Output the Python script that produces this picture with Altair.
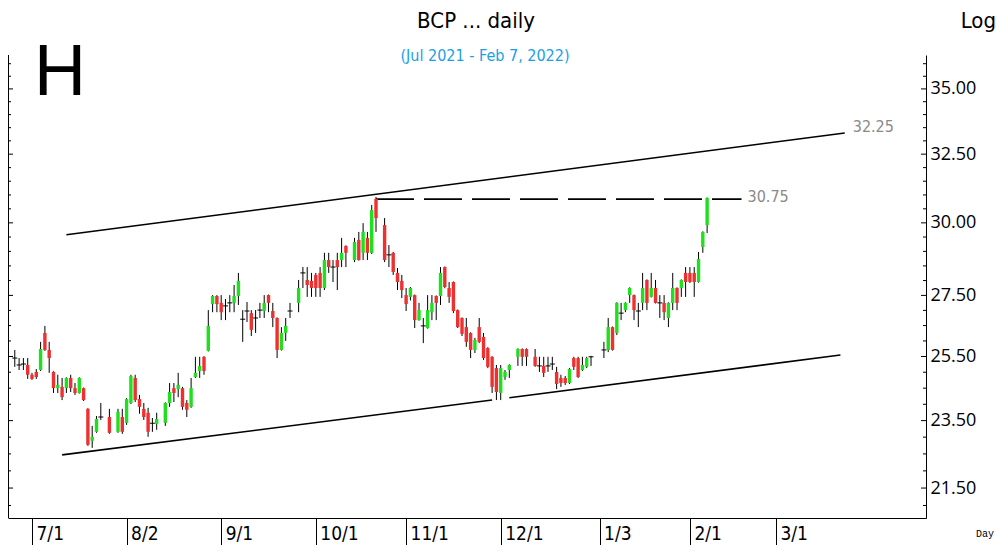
import altair as alt
import numpy as np
import pandas as pd

# ---------------- text ----------------
TITLE = "BCP ... daily"
SUBTITLE = "(Jul 2021 - Feb 7, 2022)"
CORNER = "H"
SCALE_NOTE = "Log"
PERIOD_NOTE = "Day"

# ---------------- data ----------------
first_day, last_day = "2021-06-25", "2022-02-07"
no_bar_days = ["2021-07-26", "2021-07-28", "2021-08-12", "2021-09-24", "2021-10-13",
               "2021-10-22", "2021-12-06", "2021-12-10", "2021-12-31", "2022-01-03"]

open_ = [25.45, 25.23, 25.26, 25.23, 24.92, 25.01, 25.07, 26.26, 25.71, 25.01,
         24.50, 24.54, 24.50, 24.82, 24.50, 24.35, 24.50, 23.86, 22.89, 23.16,
         23.61, 23.61, 23.16, 23.61, 23.43, 24.04, 24.82, 24.16, 23.86, 23.74,
         23.42, 23.40, 23.43, 24.04, 24.50, 24.47, 24.50, 24.04, 23.92, 24.85,
         25.04, 25.49, 25.68, 27.21, 27.48, 27.25, 27.15, 27.25, 27.25, 27.48,
         26.71, 26.98, 26.91, 26.75, 27.01, 26.98, 27.51, 26.98, 26.75, 25.71,
         26.26, 26.98, 27.25, 28.26, 28.02, 27.99, 28.19, 28.26, 27.75, 28.70,
         28.46, 28.70, 28.70, 29.19, 28.70, 29.40, 28.95, 29.47, 28.95, 30.86,
         29.92, 28.88, 28.95, 28.26, 27.99, 27.51, 27.45, 27.51, 26.68, 26.49,
         26.42, 26.94, 27.48, 27.48, 28.46, 27.75, 27.95, 27.01, 26.75, 26.45,
         26.26, 25.71, 26.45, 26.13, 25.77, 25.49, 25.13, 24.35, 24.85, 25.07,
         25.49, 25.74, 25.74, 25.49, 25.20, 25.20, 25.20, 25.26, 25.01, 24.82,
         24.82, 24.66, 25.45, 25.45, 25.07, 25.17, 25.49, 25.71, 25.71, 26.45,
         26.26, 26.91, 27.01, 27.51, 27.51, 26.98, 27.25, 28.02, 27.45, 27.75,
         27.25, 27.25, 26.75, 27.25, 27.75, 27.75, 28.26, 28.26, 28.26, 27.95,
         29.15, 29.92]
high_ = [25.71, 25.45, 25.45, 25.45, 24.98, 25.10, 25.97, 26.49, 25.97, 25.03,
         24.92, 24.82, 24.84, 24.92, 24.66, 24.84, 24.52, 23.88, 23.34, 23.64,
         24.04, 23.86, 23.86, 23.86, 24.19, 24.92, 24.92, 24.29, 24.04, 23.89,
         23.58, 23.74, 24.06, 24.66, 24.66, 24.98, 24.54, 24.13, 24.82, 25.49,
         25.49, 25.51, 27.01, 27.51, 27.51, 27.51, 27.38, 27.51, 27.85, 28.26,
         27.01, 27.28, 27.01, 27.01, 27.25, 27.51, 27.53, 27.25, 26.77, 26.45,
         26.75, 27.25, 28.02, 28.46, 28.46, 28.26, 28.26, 28.46, 28.95, 28.95,
         28.70, 28.95, 29.47, 29.21, 29.47, 29.68, 29.99, 29.68, 30.64, 30.93,
         30.17, 29.22, 28.98, 28.43, 28.19, 27.75, 27.78, 27.53, 27.25, 26.75,
         27.51, 27.51, 27.50, 28.46, 28.48, 27.95, 27.97, 27.03, 26.77, 26.75,
         26.28, 26.10, 26.75, 26.26, 25.80, 25.51, 25.23, 25.23, 25.07, 25.25,
         25.76, 25.76, 25.76, 25.74, 25.49, 25.49, 25.49, 25.49, 25.17, 24.92,
         24.88, 25.13, 25.49, 25.49, 25.49, 25.49, 25.52, 25.97, 26.75, 26.47,
         27.27, 27.25, 27.27, 27.77, 27.53, 27.25, 28.26, 28.04, 28.26, 28.02,
         27.51, 27.51, 27.27, 28.26, 27.77, 28.04, 28.46, 28.46, 28.46, 28.98,
         29.70, 30.91]
low_ = [25.17, 25.07, 25.07, 24.79, 24.76, 24.79, 25.04, 25.68, 24.98, 24.35,
        24.35, 24.13, 24.35, 24.38, 24.29, 24.33, 24.10, 22.74, 22.68, 23.13,
        23.52, 23.10, 23.13, 23.10, 23.37, 24.01, 24.07, 23.71, 23.52, 23.01,
        23.16, 23.22, 23.34, 23.92, 24.07, 24.22, 23.83, 23.61, 23.89, 24.82,
        24.82, 24.92, 25.66, 26.94, 26.94, 26.68, 26.68, 26.94, 26.94, 27.18,
        25.97, 26.62, 26.16, 26.26, 26.75, 26.75, 26.94, 26.45, 25.45, 25.69,
        26.00, 26.75, 26.94, 27.75, 27.45, 27.45, 27.45, 27.45, 27.68, 28.26,
        27.95, 27.68, 28.46, 28.46, 28.63, 28.68, 28.70, 28.70, 28.91, 29.68,
        28.63, 28.46, 28.19, 27.68, 27.41, 26.98, 27.33, 26.42, 26.66, 25.93,
        26.40, 26.68, 26.68, 27.18, 27.74, 27.25, 26.91, 26.42, 26.16, 25.81,
        25.45, 25.61, 25.93, 25.39, 25.13, 24.35, 24.13, 24.13, 24.76, 24.82,
        25.20, 25.20, 25.20, 25.17, 25.01, 24.85, 25.01, 25.07, 24.47, 24.54,
        24.60, 24.63, 25.07, 24.82, 25.04, 25.13, 25.20, 25.45, 25.64, 25.69,
        26.19, 26.68, 26.94, 27.25, 26.68, 26.45, 27.01, 27.01, 27.43, 27.23,
        26.75, 26.68, 26.45, 27.01, 27.01, 27.45, 27.45, 27.92, 27.45, 27.93,
        28.95, 29.64]
close_ = [25.45, 25.23, 25.26, 24.92, 24.79, 24.85, 25.74, 25.71, 25.45, 24.50,
          24.60, 24.22, 24.82, 24.50, 24.35, 24.82, 24.13, 22.77, 23.01, 23.55,
          23.61, 23.13, 23.77, 23.16, 24.16, 24.88, 24.13, 23.92, 23.61, 23.16,
          23.42, 23.55, 24.04, 24.38, 24.35, 24.60, 23.92, 23.83, 24.50, 24.98,
          25.20, 25.04, 26.49, 27.48, 27.21, 26.94, 27.15, 27.25, 27.48, 27.99,
          26.71, 26.98, 26.36, 26.75, 27.01, 27.25, 27.25, 26.75, 25.71, 26.26,
          26.49, 26.98, 27.75, 28.26, 27.85, 27.75, 27.75, 27.75, 28.70, 28.46,
          28.46, 28.46, 28.95, 28.95, 29.33, 28.70, 29.68, 28.95, 30.46, 30.17,
          28.70, 28.88, 28.29, 27.95, 27.68, 27.21, 27.75, 26.68, 27.01, 26.49,
          27.01, 27.25, 27.25, 28.26, 27.78, 27.45, 26.98, 26.45, 26.23, 25.97,
          25.71, 26.03, 25.97, 25.45, 25.17, 24.54, 24.38, 25.13, 25.01, 25.23,
          25.74, 25.49, 25.49, 25.20, 25.20, 24.98, 25.20, 25.26, 24.63, 24.66,
          24.66, 25.10, 25.17, 24.85, 25.23, 25.45, 25.49, 25.71, 26.45, 25.71,
          27.25, 26.91, 27.25, 27.75, 27.01, 26.98, 27.75, 27.25, 27.75, 27.25,
          27.25, 26.94, 27.25, 27.75, 27.25, 28.02, 27.95, 27.95, 27.95, 28.74,
          29.68, 30.89]

tick_dates = ["2021-07-01", "2021-08-02", "2021-09-01", "2021-10-01", "2021-11-01",
              "2021-12-01", "2022-01-03", "2022-02-01", "2022-03-01"]
tick_labels = ["7/1", "8/2", "9/1", "10/1", "11/1", "12/1", "1/3", "2/1", "3/1"]
price_ticks = [21.5, 23.5, 25.5, 27.5, 30.0, 32.5, 35.0]
minor_ticks = [21.0, 22.0, 22.5, 23.0, 24.0, 24.5, 25.0, 26.0, 26.5, 27.0, 28.0,
               28.5, 29.0, 29.5, 30.5, 31.0, 31.5, 32.0, 33.0, 33.5, 34.0, 34.5,
               35.5, 36.0]

upper_dates, upper_prices = ["2021-07-13", "2022-03-23"], [29.58, 33.30]
lower_a_dates, lower_a_prices = ["2021-07-12", "2021-11-29"], [22.47, 24.13]
lower_b_dates, lower_b_prices = ["2021-12-03", "2022-03-22"], [24.20, 25.55]
level_dates, level_prices = ["2021-10-21", "2022-02-17"], [30.85, 30.85]
upper_label, level_label = "32.25", "30.75"

# ---------------- style ----------------
W, H = 918, 463
GREEN, RED = "#1fe01f", "#ee3030"
NARROW = "Liberation Sans Narrow, Arial Narrow, DejaVu Sans Condensed, sans-serif"
ORIGIN = np.datetime64("2021-07-01")


def wd(dates):
    return [int(v) for v in np.busday_count(ORIGIN, np.array(dates, dtype="datetime64[D]"))]


days = [d.strftime("%Y-%m-%d") for d in pd.bdate_range(first_day, last_day)]
days = [d for d in days if d not in no_bar_days]

candles = pd.DataFrame({"date": days, "k": wd(days), "open": open_, "high": high_,
                        "low": low_, "close": close_})
candles["doji"] = (candles["open"] - candles["close"]).abs() < 0.005

tick_k = wd(tick_dates)

xs = alt.Scale(domain=[-5.58, 207.9], nice=False, zero=False)
ys = alt.Scale(type="symlog", constant=16, domain=[20.645, 36.35], nice=False, zero=False)

label_expr = ("[" + ",".join(f"'{t}'" for t in tick_labels) + "][indexof(["
              + ",".join(str(v) for v in tick_k) + "], datum.value)]")

xaxis = alt.Axis(values=tick_k, labelExpr=label_expr, title=None, grid=False,
                 domainColor="black", domainWidth=1, tickColor="black", tickWidth=1,
                 tickSize=27, labelAlign="left", labelBaseline="alphabetic", labelPadding=-6,
                 labelOffset=4, labelFont=NARROW, labelFontSize=19, labelColor="black",
                 labelFlush=False, labelOverlap=False)
yaxis = alt.Axis(orient="right", values=price_ticks, format=".2f", title=None, grid=False,
                 ticks=False, domainColor="black", domainWidth=1, labelPadding=4,
                 labelFont="Open Sans", labelFontSize=18, labelColor="black",
                 labelFlush=False, labelOverlap=False)


def X():
    return alt.X("k:Q", scale=xs, axis=xaxis)


def Y(field):
    return alt.Y(field, scale=ys, axis=yaxis)


wicks = alt.Chart(candles).mark_rule(color="black", strokeWidth=1).encode(
    x=X(), y=Y("low:Q"), y2="high:Q")

bodies = alt.Chart(candles).transform_filter("!datum.doji").mark_rule(
    strokeWidth=3.4, strokeCap="butt").encode(
    x=X(), y=Y("open:Q"), y2="close:Q",
    color=alt.condition("datum.close > datum.open", alt.value(GREEN), alt.value(RED)))

dojis = alt.Chart(candles).transform_filter("datum.doji").mark_point(
    shape="stroke", size=25, color="black", strokeWidth=1, filled=False, opacity=1).encode(
    x=X(), y=Y("close:Q"))


def seg_df(name, dates, prices):
    return pd.DataFrame({"seg": name, "k": wd(dates), "price": prices})


solid_df = pd.concat([seg_df("upper", upper_dates, upper_prices),
                      seg_df("lower_a", lower_a_dates, lower_a_prices),
                      seg_df("lower_b", lower_b_dates, lower_b_prices)])
level_df = seg_df("level", level_dates, level_prices)

solid = alt.Chart(solid_df).mark_line(color="black", strokeWidth=1.6).encode(
    x=X(), y=Y("price:Q"), detail="seg:N")
dashed = alt.Chart(level_df).mark_line(color="black", strokeWidth=1.8,
                                       strokeDash=[38, 10]).encode(x=X(), y=Y("price:Q"))

upper_end = pd.DataFrame({"k": wd(upper_dates[-1:]), "price": upper_prices[-1:],
                          "t": [upper_label]})
level_end = pd.DataFrame({"k": wd(level_dates[-1:]), "price": level_prices[-1:],
                          "t": [level_label]})
upper_txt = alt.Chart(upper_end).mark_text(align="left", baseline="middle", dx=8, dy=-6,
                                           fontSize=16, font=NARROW, color="#8a8a8a").encode(
    x=X(), y=Y("price:Q"), text="t:N")
level_txt = alt.Chart(level_end).mark_text(align="left", baseline="middle", dx=6, dy=-2,
                                           fontSize=16, font=NARROW, color="#8a8a8a").encode(
    x=X(), y=Y("price:Q"), text="t:N")

minor_df = pd.DataFrame({"v": minor_ticks})
major_df = pd.DataFrame({"v": price_ticks})
tick_layers = []
for df_, ln in ((minor_df, 3), (major_df, 5)):
    tick_layers.append(alt.Chart(df_).mark_rule(color="black", strokeWidth=1).encode(
        y=Y("v:Q"), x=alt.value(W - ln), x2=alt.value(W)))
    tick_layers.append(alt.Chart(df_).mark_rule(color="black", strokeWidth=1).encode(
        y=Y("v:Q"), x=alt.value(0.5), x2=alt.value(ln)))

left_frame = alt.Chart(pd.DataFrame({"a": [0]})).mark_rule(color="black", strokeWidth=1).encode(
    x=alt.value(0.5), y=alt.value(0), y2=alt.value(H))


def note(text, x, y, **kw):
    return alt.Chart(pd.DataFrame({"t": [text]})).mark_text(**kw).encode(
        x=alt.value(x), y=alt.value(y), text="t:N")


texts = [
    note(CORNER, 26, 40, align="left", baseline="alphabetic", fontSize=72,
         font="Liberation Sans", color="black"),
    note(TITLE, 468, -27, align="center", baseline="alphabetic", fontSize=22,
         font=NARROW, color="black"),
    note(SUBTITLE, 477, 6, align="center", baseline="alphabetic", fontSize=16,
         font=NARROW, color="#1a9fe6"),
    note(SCALE_NOTE, 988, -27, align="right", baseline="alphabetic", fontSize=22,
         font=NARROW, color="black"),
    note(PERIOD_NOTE, 986, 482, align="right", baseline="alphabetic", fontSize=10,
         font="Liberation Mono", color="black"),
]

chart = alt.layer(solid, dashed, wicks, bodies, dojis, upper_txt, level_txt,
                  left_frame, *tick_layers, *texts).properties(
    width=W, height=H,
    padding={"left": 0, "top": 47, "right": 74, "bottom": 27},
    autosize=alt.AutoSizeParams(type="none"),
).configure_view(stroke=None)

chart.save("out.html", embed_options={"renderer": "svg", "actions": False})
